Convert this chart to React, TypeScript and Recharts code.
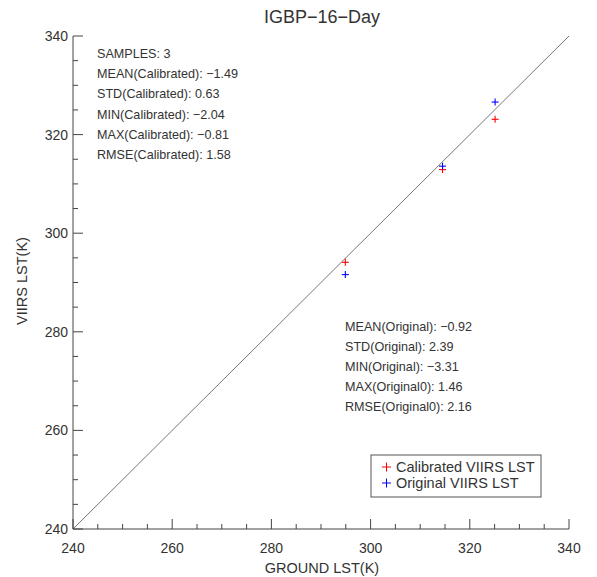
import React from 'react';
import {
  ScatterChart,
  Scatter,
  XAxis,
  YAxis,
  ReferenceLine,
} from 'recharts';

// ground LST (K) and the two VIIRS retrievals at the same sites
const groundLst = [294.9, 314.5, 325.1];
const calibratedLst = [294.1, 312.9, 323.1];
const originalLst = [291.6, 313.6, 326.6];

const axisTicks = [
  240, 245, 250, 255, 260, 265, 270, 275, 280, 285, 290,
  295, 300, 305, 310, 315, 320, 325, 330, 335, 340,
];
const majorTicks = [240, 260, 280, 300, 320, 340];

const calibratedStats = [
  'SAMPLES: 3',
  'MEAN(Calibrated): \u22121.49',
  'STD(Calibrated): 0.63',
  'MIN(Calibrated): \u22122.04',
  'MAX(Calibrated): \u22120.81',
  'RMSE(Calibrated): 1.58',
];
const originalStats = [
  'MEAN(Original): \u22120.92',
  'STD(Original): 2.39',
  'MIN(Original): \u22123.31',
  'MAX(Original0): 1.46',
  'RMSE(Original0): 2.16',
];

const series = [
  { name: 'Calibrated VIIRS LST', color: '#ff0000', values: calibratedLst },
  { name: 'Original VIIRS LST', color: '#0000ff', values: originalLst },
];

const FONT = '"Liberation Sans", Arial, sans-serif';
const INK = '#333';
const FRAME = '#444';

const isMajor = (v: number) => majorTicks.includes(v);

const BottomTick = ({ x, y, payload }: any) => {
  const len = isMajor(payload.value) ? 10 : 5;
  return (
    <g>
      <line x1={x} y1={y} x2={x} y2={y - len} stroke={FRAME} />
      {isMajor(payload.value) && (
        <text x={x} y={y + 24} textAnchor="middle" fontSize={14} fill={INK} fontFamily={FONT}>
          {payload.value}
        </text>
      )}
    </g>
  );
};

const TopTick = ({ x, y, payload }: any) => {
  const len = isMajor(payload.value) ? 10 : 5;
  return <line x1={x} y1={y} x2={x} y2={y + len} stroke={FRAME} />;
};

const LeftTick = ({ x, y, payload }: any) => {
  const len = isMajor(payload.value) ? 10 : 5;
  return (
    <g>
      <line x1={x} y1={y} x2={x + len} y2={y} stroke={FRAME} />
      {isMajor(payload.value) && (
        <text x={x - 5} y={y + 5} textAnchor="end" fontSize={14} fill={INK} fontFamily={FONT}>
          {payload.value}
        </text>
      )}
    </g>
  );
};

const RightTick = ({ x, y, payload }: any) => {
  const len = isMajor(payload.value) ? 10 : 5;
  return <line x1={x} y1={y} x2={x - len} y2={y} stroke={FRAME} />;
};

const plus = (color: string) => (props: any) => {
  const { cx, cy } = props;
  return (
    <g>
      <line x1={cx - 3.5} y1={cy} x2={cx + 3.5} y2={cy} stroke={color} strokeWidth={1.1} />
      <line x1={cx} y1={cy - 3.5} x2={cx} y2={cy + 3.5} stroke={color} strokeWidth={1.1} />
    </g>
  );
};

export default function App() {
  const data = series.map((s) =>
    groundLst.map((g, i) => ({ x: g, y: s.values[i] }))
  );

  return (
    <div style={{ position: 'absolute', left: 0, top: 0, background: '#fff' }}>
      <ScatterChart
        width={597}
        height={577}
        margin={{ top: 36, right: 28, bottom: 0, left: 0 }}
      >
        <XAxis
          xAxisId="bottom"
          type="number"
          dataKey="x"
          domain={[240, 340]}
          ticks={axisTicks}
          interval={0}
          height={48}
          tickSize={0}
          tickMargin={0}
          tickLine={false}
          axisLine={{ stroke: FRAME }}
          tick={<BottomTick />}
        />
        <XAxis
          xAxisId="top"
          orientation="top"
          type="number"
          dataKey="x"
          domain={[240, 340]}
          ticks={axisTicks}
          interval={0}
          height={0}
          tickSize={0}
          tickMargin={0}
          tickLine={false}
          axisLine={{ stroke: FRAME }}
          tick={<TopTick />}
        />
        <YAxis
          yAxisId="left"
          type="number"
          dataKey="y"
          domain={[240, 340]}
          ticks={axisTicks}
          interval={0}
          width={73}
          tickSize={0}
          tickMargin={0}
          tickLine={false}
          axisLine={{ stroke: FRAME }}
          tick={<LeftTick />}
        />
        <YAxis
          yAxisId="right"
          orientation="right"
          type="number"
          dataKey="y"
          domain={[240, 340]}
          ticks={axisTicks}
          interval={0}
          width={0}
          tickSize={0}
          tickMargin={0}
          tickLine={false}
          axisLine={{ stroke: FRAME }}
          tick={<RightTick />}
        />
        <ReferenceLine
          xAxisId="bottom"
          yAxisId="left"
          segment={[{ x: 240, y: 240 }, { x: 340, y: 340 }]}
          stroke="#777"
          strokeWidth={1}
        />
        {series.map((s, i) => (
          <Scatter
            key={s.name}
            name={s.name}
            data={data[i]}
            xAxisId="bottom"
            yAxisId="left"
            fill={s.color}
            shape={plus(s.color)}
            isAnimationActive={false}
          />
        ))}

        <text x={322} y={23} textAnchor="middle" fontSize={18} fill={INK} fontFamily={FONT}>
          IGBP{'\u2212'}16{'\u2212'}Day
        </text>
        <text x={322} y={573} textAnchor="middle" fontSize={14.5} fill={INK} fontFamily={FONT}>
          GROUND LST(K)
        </text>
        <text
          x={27}
          y={281}
          textAnchor="middle"
          fontSize={14.5}
          fill={INK}
          fontFamily={FONT}
          transform="rotate(-90, 27, 281)"
        >
          VIIRS LST(K)
        </text>

        {calibratedStats.map((t, i) => (
          <text key={t} x={97} y={58 + i * 20.2} fontSize={12.6} fill={INK} fontFamily={FONT}>
            {t}
          </text>
        ))}
        {originalStats.map((t, i) => (
          <text key={t} x={345} y={331 + i * 20} fontSize={12.6} fill={INK} fontFamily={FONT}>
            {t}
          </text>
        ))}

        <rect x={371} y={455} width={170} height={42} fill="#fff" stroke="#555" />
        {series.map((s, i) => (
          <g key={s.name}>
            <line x1={382} y1={467 + i * 16} x2={391} y2={467 + i * 16} stroke={s.color} />
            <line x1={386.5} y1={462.5 + i * 16} x2={386.5} y2={471.5 + i * 16} stroke={s.color} />
            <text x={396} y={472 + i * 16} fontSize={14.5} fill={INK} fontFamily={FONT}>
              {s.name}
            </text>
          </g>
        ))}
      </ScatterChart>
    </div>
  );
}
